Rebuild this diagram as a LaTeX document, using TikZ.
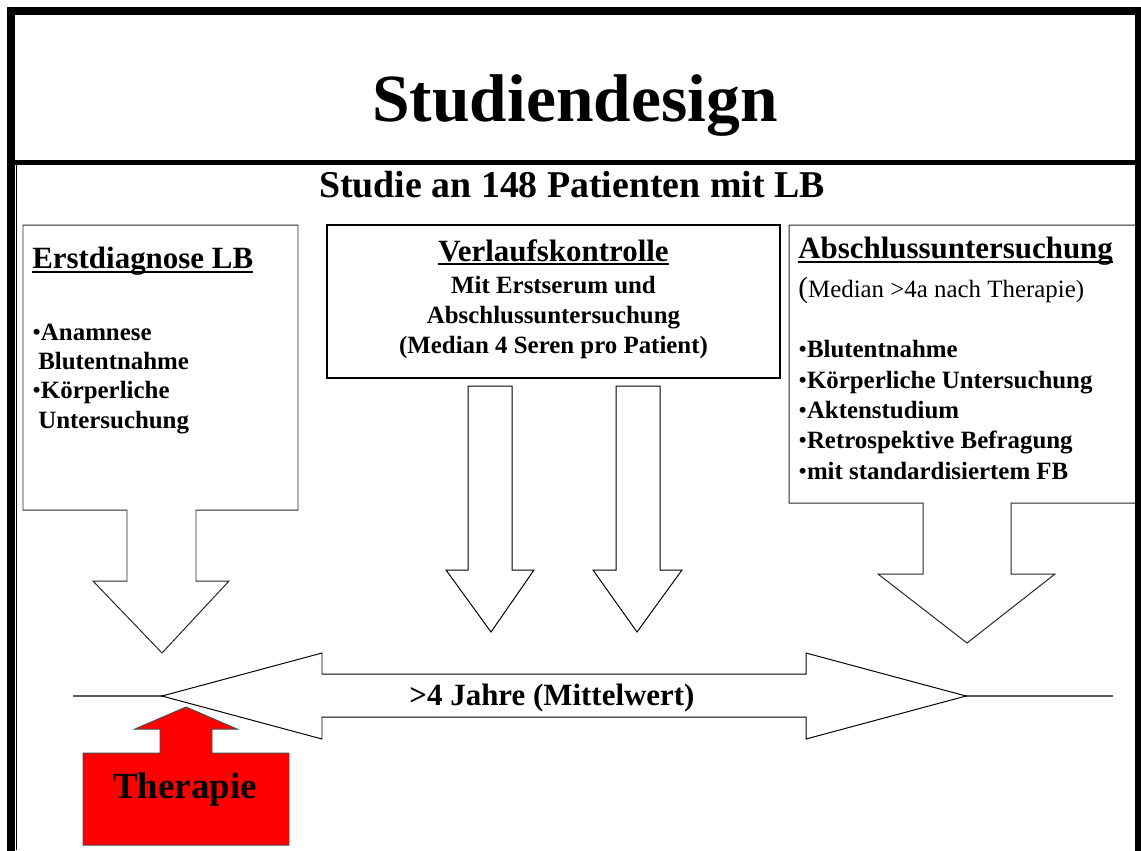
\documentclass[tikz,border=0pt]{standalone}
\usepackage{fontspec}
\setmainfont{Liberation Serif}
\newcommand{\pkt}{{\mdseries •}}
\tikzset{
  bodyline/.style={inner sep=0pt, anchor=base west, font=\fontsize{17.7}{21}\selectfont\bfseries},
  headline/.style={inner sep=0pt, font=\fontsize{22}{26}\selectfont\bfseries},
  calloutbox/.style={draw=black!85, line width=0.7pt, fill=white},
  blockarrow/.style={draw=black, line width=0.7pt, fill=white},
  headrule/.style={line width=1.1pt}
}

\begin{document}
\begin{tikzpicture}[x=0.025cm, y=-0.025cm]
  \useasboundingbox (0,0) rectangle (1141,850);
  \clip (0,0) rectangle (1141,850);

  %%%%% FRAME %%%%%
  \draw[line width=5pt] (11,11) rectangle (1138,880);
  \draw[line width=3.6pt] (11,162.5) -- (1138,162.5);
  \draw[line width=1.4pt] (16.5,164) -- (16.5,850);

  \node[inner sep=0pt, anchor=base, font=\fontsize{48}{56}\selectfont\bfseries] (title) at (575,121) {Studiendesign};
  \node[inner sep=0pt, anchor=base, font=\fontsize{26.9}{32}\selectfont\bfseries] (study) at (572,197) {Studie an 148 Patienten mit LB};

  %%%%% ERSTDIAGNOSE %%%%%
  \draw[calloutbox] (23,225) -- (298,225) -- (298,510) -- (196,510) -- (196,581) -- (229,581)
    -- (162,653) -- (93,581) -- (127,581) -- (127,510) -- (23,510) -- cycle;
  \node[headline, anchor=base west] (erstHead) at (32,268) {Erstdiagnose LB};
  \draw[headrule] ([yshift=-2.8pt]erstHead.base west) -- ([yshift=-2.8pt]erstHead.base east);
  \node[bodyline] (erstA) at (32,340) {\pkt Anamnese};
  \node[bodyline] (erstB) at (38,369) {Blutentnahme};
  \node[bodyline] (erstC) at (32,398) {\pkt Körperliche};
  \node[bodyline] (erstD) at (38,428) {Untersuchung};

  %%%%% VERLAUF %%%%%
  \draw[line width=1.5pt, fill=white] (327,225) rectangle (780,378);
  \node[headline, anchor=base] (verlHead) at (553.5,261) {Verlaufskontrolle};
  \draw[headrule] ([yshift=-2.2pt]verlHead.base west) -- ([yshift=-2.2pt]verlHead.base east);
  \node[bodyline, anchor=base] (verlA) at (553.5,293) {Mit Erstserum und};
  \node[bodyline, anchor=base] (verlB) at (553.5,323) {Abschlussuntersuchung};
  \node[bodyline, anchor=base] (verlC) at (553.5,353) {(Median 4 Seren pro Patient)};

  \draw[blockarrow] (468,386) -- (512,386) -- (512,570) -- (534,570) -- (491,632) -- (446,570) -- (468,570) -- cycle;
  \draw[blockarrow] (616,386) -- (660,386) -- (660,570) -- (682,570) -- (637,632) -- (593,570) -- (616,570) -- cycle;

  %%%%% ABSCHLUSS %%%%%
  \draw[calloutbox] (789,225) -- (1150,225) -- (1150,503) -- (1011,503) -- (1011,574) -- (1055,574)
    -- (967,643) -- (878,574) -- (923,574) -- (923,503) -- (789,503) -- cycle;
  \draw[line width=5pt] (1138,11) -- (1138,880);
  \node[headline, anchor=base west] (abschHead) at (798,258) {Abschlussuntersuchung};
  \draw[headrule] ([yshift=-2.8pt]abschHead.base west) -- ([yshift=-2.8pt]abschHead.base east);
  \node[bodyline, font=\fontsize{17.7}{21}\selectfont] (abschMed) at (798,297) {{\fontsize{21}{21}\selectfont(}Median >4a nach Therapie)};
  \node[bodyline] (abschA) at (798,357) {\pkt Blutentnahme};
  \node[bodyline] (abschB) at (798,388) {\pkt Körperliche Untersuchung};
  \node[bodyline] (abschC) at (798,418) {\pkt Aktenstudium};
  \node[bodyline] (abschD) at (798,448) {\pkt Retrospektive Befragung};
  \node[bodyline] (abschE) at (798,479) {\pkt mit standardisiertem FB};

  %%%%% ZEITACHSE %%%%%
  \draw[line width=1.4pt, black!65] (73,696) -- (1113,696);
  \draw[blockarrow] (162,696) -- (322,653) -- (322,674) -- (806,674) -- (806,653) -- (966,696)
    -- (806,739) -- (806,717) -- (322,717) -- (322,739) -- cycle;
  \node[headline, anchor=base] (dauer) at (552,705) {>4 Jahre (Mittelwert)};

  %%%%% THERAPIE %%%%%
  \draw[draw=black!70, fill=red, line width=0.7pt] (83,753) -- (160,753) -- (160,729) -- (135,729) -- (186,707)
    -- (237,729) -- (212,729) -- (212,753) -- (289,753) -- (289,845) -- (83,845) -- cycle;
  \node[inner sep=0pt, anchor=base, font=\fontsize{26.2}{31}\selectfont\bfseries] (therapie) at (185,798) {Therapie};
\end{tikzpicture}
\end{document}
